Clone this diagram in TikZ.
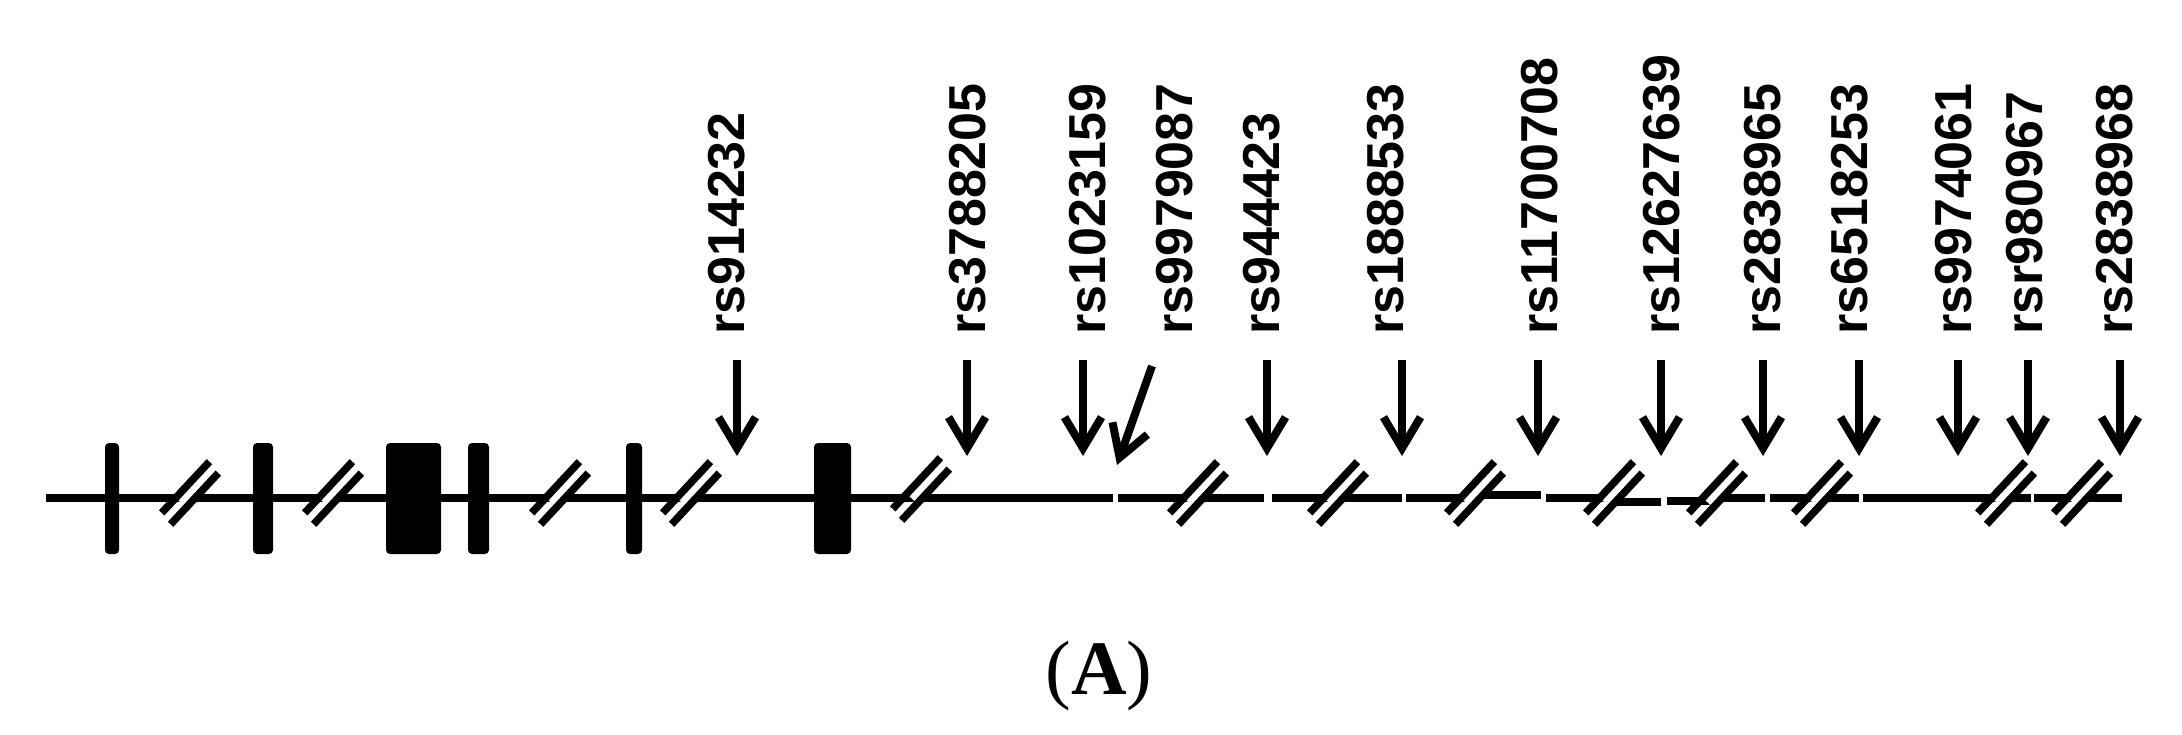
\documentclass[tikz,border=0pt]{standalone}
\usepackage{fontspec}
\setmainfont{Liberation Serif}
\newfontfamily\labfont{Liberation Sans}
\usetikzlibrary{arrows.meta}
\begin{document}
\begin{tikzpicture}[x=1pt,y=-1pt,
  mainline/.style={line width=7.5pt},
  exon/.style={fill=black, rounded corners=4pt, inner sep=0pt, minimum height=111pt},
  snp/.style={line width=8pt, -{Straight Barb[length=31pt,width=37pt]}},
  lab/.style={rotate=90, anchor=base west, inner sep=0pt,
    font=\labfont\bfseries\fontsize{52}{60}\selectfont},
  brk/.pic={
    \draw[white, line width=16pt] (-9,9.7) -- (9,-9.7);
    \draw[black, line width=7.5pt] (-28.3,19.9) -- (19.4,-31.3);
    \draw[black, line width=7.5pt] (-19.4,31.3) -- (28.3,-19.9);
  }
]
\useasboundingbox[fill=white] (0,0) rectangle (2182,735);

% main line segments
\draw[mainline] (46,498) -- (1113,498);
\draw[mainline] (1118,498) -- (1264,498);
\draw[mainline] (1272,498) -- (1402,498);
\draw[mainline] (1406,498) -- (1478,498);
\draw[mainline] (1478,495) -- (1541,495);
\draw[mainline] (1546,498) -- (1614,498);
\draw[mainline] (1614,502) -- (1661,502);
\draw[mainline] (1667,501) -- (1717,501);
\draw[mainline] (1717,498) -- (1765,498);
\draw[mainline] (1770,498) -- (1859,498);
\draw[mainline] (1863,498) -- (2031,498);
\draw[mainline] (2034,498) -- (2122,498);

% breaks
\foreach \bx in {190,333,560,691,1198,1338,1475,1614,1717,1822,2006,2082}
  \pic at (\bx,493) {brk};
\pic at (921,489) {brk};

% exons
\node[exon, minimum width=14pt] (e1) at (112,498.5) {};
\node[exon, minimum width=20pt] (e2) at (263,498.5) {};
\node[exon, minimum width=55pt] (e3) at (413.5,498.5) {};
\node[exon, minimum width=21pt] (e4) at (478.5,498.5) {};
\node[exon, minimum width=16pt] (e5) at (634,498.5) {};
\node[exon, minimum width=37pt] (e6) at (832.5,498.5) {};

% labels
\node[lab] (l1) at (744,335) {rs914232};
\node[lab] (l2) at (985,335) {rs3788205};
\node[lab] (l3) at (1105,335) {rs1023159};
\node[lab] (l4) at (1192,335) {rs9979087};
\node[lab] (l5) at (1279,335) {rs944423};
\node[lab] (l6) at (1403,335) {rs1888533};
\node[lab] (l7) at (1557,335) {rs11700708};
\node[lab] (l8) at (1679,335) {rs12627639};
\node[lab] (l9) at (1780,335) {rs2838965};
\node[lab] (l10) at (1867,335) {rs6518253};
\node[lab] (l11) at (1971,335) {rs9974061};
\node[lab] (l12) at (2042,335) {rsr980967};
\node[lab] (l13) at (2132,335) {rs2838968};

% arrows
\foreach \n/\ax in {1/737,2/967,3/1083,5/1267,6/1402,7/1538,8/1661,9/1763,10/1859,11/1958,12/2028,13/2120}{
  \coordinate (t\n) at (\ax,360);
  \coordinate (h\n) at (\ax,456);
  \draw[snp] (t\n) -- (h\n);
}
\coordinate (t4) at (1152,366);
\coordinate (h4) at (1117,465);
\draw[snp] (t4) -- (h4);

% panel caption
\node[anchor=base, inner sep=0pt, font=\fontsize{77}{80}\selectfont] (cap) at (1099,694) {(\textbf{A})};
\end{tikzpicture}
\end{document}
